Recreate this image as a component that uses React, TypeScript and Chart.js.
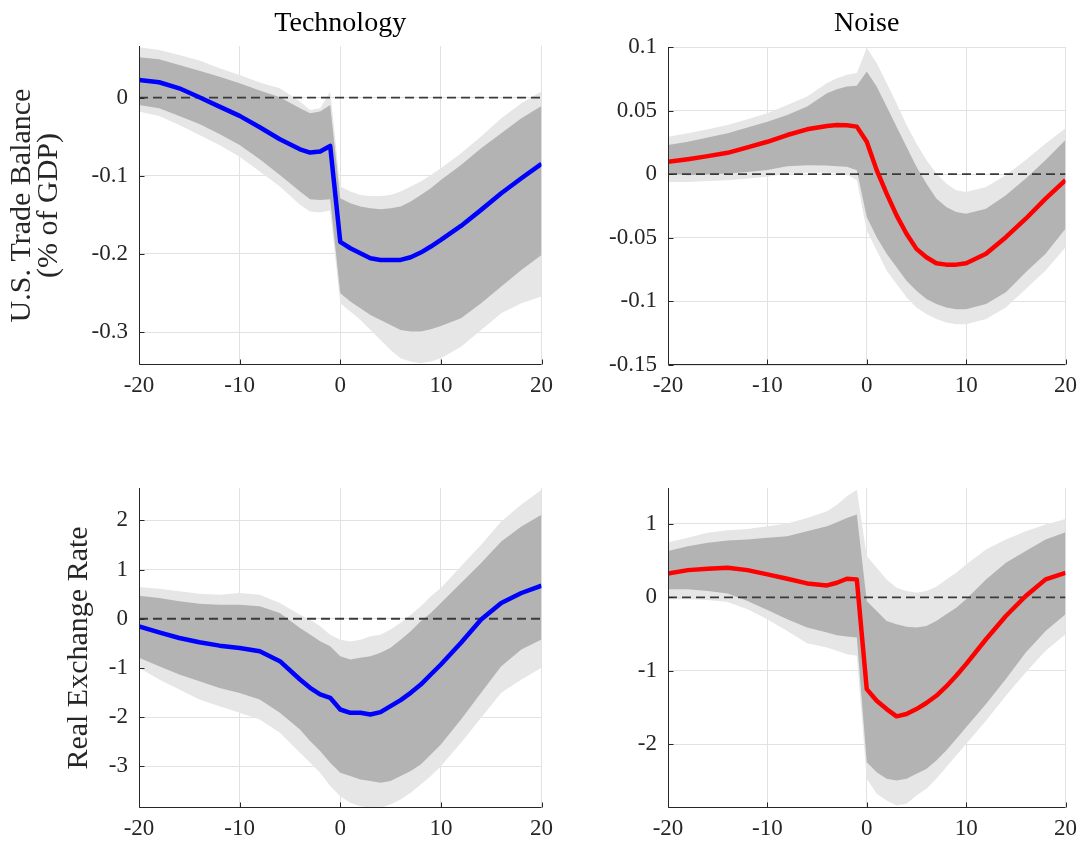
import React, { useEffect, useRef } from 'react';
import { Chart, registerables } from 'chart.js';

Chart.register(...registerables);

const FONT = '"Liberation Serif", "DejaVu Serif", serif';
const TEXT_COLOR = '#262626';

const horizons = [-20, -18, -16, -14, -12, -10, -8, -6, -4, -3, -2, -1, 0, 1, 2, 3, 4, 5, 6, 7, 8, 9, 10, 12, 14, 16, 18, 20];

const xTicks = [-20, -10, 0, 10, 20];
const xTickLabels = ['-20', '-10', '0', '10', '20'];

const columnTitles = ['Technology', 'Noise'];
const rowTitles = [['U.S. Trade Balance', '(% of GDP)'], ['Real Exchange Rate']];

// ---- Trade balance, technology shock ----
const tbTechMedian = [0.0226, 0.0196, 0.0119, 0.0004, -0.0115, -0.0234, -0.0379, -0.0533, -0.0661, -0.0703, -0.069, -0.0618, -0.1845, -0.1927, -0.1991, -0.2055, -0.2076, -0.2076, -0.2076, -0.2042, -0.1982, -0.1905, -0.182, -0.1641, -0.1436, -0.1223, -0.1032, -0.0848];
const tbTechInnerUpper = [0.0516, 0.049, 0.0418, 0.0345, 0.0268, 0.0183, 0.009, 0.0004, -0.0136, -0.02, -0.0179, -0.0094, -0.1287, -0.1351, -0.1394, -0.1415, -0.1428, -0.1415, -0.1394, -0.133, -0.1245, -0.116, -0.1053, -0.0861, -0.0648, -0.0456, -0.0264, -0.0107];
const tbTechOuterUpper = [0.0644, 0.061, 0.0546, 0.0473, 0.0375, 0.029, 0.0192, 0.0119, -0.0051, -0.0158, -0.0136, 0.0077, -0.1138, -0.1202, -0.1245, -0.1258, -0.1258, -0.1245, -0.1202, -0.1138, -0.1074, -0.0989, -0.0904, -0.0712, -0.0499, -0.0264, -0.0072, 0.0077];
const tbTechInnerLower = [-0.0094, -0.0136, -0.0234, -0.0337, -0.0465, -0.0605, -0.0789, -0.0989, -0.1202, -0.13, -0.1309, -0.13, -0.2502, -0.2609, -0.2694, -0.2779, -0.2843, -0.2907, -0.2971, -0.2992, -0.2992, -0.2963, -0.292, -0.2822, -0.263, -0.2417, -0.2204, -0.2012];
const tbTechOuterLower = [-0.0179, -0.0235, -0.035, -0.0478, -0.0605, -0.0755, -0.0946, -0.1138, -0.1372, -0.1458, -0.1471, -0.1445, -0.263, -0.2737, -0.2843, -0.2971, -0.3099, -0.3227, -0.3333, -0.3376, -0.3397, -0.3376, -0.3333, -0.3185, -0.2971, -0.2758, -0.263, -0.2545];
const tbTechYTicks = [-0.3, -0.2, -0.1, 0];
const tbTechYLabels = ['-0.3', '-0.2', '-0.1', '0'];

// ---- Trade balance, noise shock ----
const tbNoiseMedian = [0.0097, 0.0118, 0.0142, 0.0168, 0.0211, 0.0255, 0.0308, 0.0353, 0.0379, 0.0387, 0.0384, 0.0374, 0.0255, 0.0032, -0.0153, -0.0324, -0.0468, -0.0587, -0.0653, -0.07, -0.0711, -0.0711, -0.07, -0.0626, -0.0495, -0.035, -0.0192, -0.0047];
const tbNoiseInnerUpper = [0.0229, 0.0255, 0.0289, 0.0321, 0.0368, 0.0413, 0.0466, 0.0532, 0.0637, 0.0668, 0.0689, 0.0695, 0.0808, 0.0689, 0.0532, 0.0374, 0.0216, 0.0058, -0.0074, -0.0192, -0.0258, -0.0297, -0.0311, -0.0271, -0.0166, -0.0034, 0.0111, 0.0268];
const tbNoiseOuterUpper = [0.0295, 0.0321, 0.0353, 0.0387, 0.0432, 0.0479, 0.0545, 0.0611, 0.0716, 0.0755, 0.0782, 0.0795, 0.0992, 0.0874, 0.0716, 0.0558, 0.0387, 0.0242, 0.0111, 0.0005, -0.0074, -0.0126, -0.0139, -0.01, -0.0008, 0.0111, 0.0242, 0.0361];
const tbNoiseInnerLower = [0.0005, -0.0008, -0.0003, 0.0005, 0.0018, 0.0034, 0.0063, 0.0071, 0.0068, 0.0063, 0.0058, 0.0032, -0.0337, -0.0495, -0.0626, -0.0732, -0.0837, -0.0916, -0.0982, -0.1021, -0.1047, -0.1061, -0.1061, -0.1021, -0.0929, -0.0771, -0.0626, -0.0429];
const tbNoiseOuterLower = [-0.0061, -0.0061, -0.0053, -0.0047, -0.0034, -0.0021, 0.0005, 0.0011, 0.0011, 0.0005, 0, -0.0047, -0.0442, -0.06, -0.0758, -0.0863, -0.0968, -0.1047, -0.11, -0.1139, -0.1166, -0.1179, -0.1179, -0.1139, -0.1047, -0.0903, -0.0758, -0.0574];
const tbNoiseYTicks = [-0.15, -0.1, -0.05, 0, 0.05, 0.1];
const tbNoiseYLabels = ['-0.15', '-0.1', '-0.05', '0', '0.05', '0.1'];

// ---- Real exchange rate, technology shock ----
const rerTechMedian = [-0.154, -0.277, -0.392, -0.479, -0.547, -0.594, -0.66, -0.863, -1.236, -1.405, -1.54, -1.608, -1.846, -1.913, -1.913, -1.947, -1.9, -1.778, -1.656, -1.507, -1.339, -1.134, -0.931, -0.49, -0.016, 0.321, 0.524, 0.673];
const rerTechInnerUpper = [0.47, 0.422, 0.355, 0.307, 0.287, 0.287, 0.253, 0.118, -0.188, -0.321, -0.456, -0.558, -0.764, -0.829, -0.795, -0.764, -0.693, -0.592, -0.425, -0.253, -0.05, 0.118, 0.321, 0.727, 1.134, 1.574, 1.879, 2.117];
const rerTechOuterUpper = [0.646, 0.612, 0.558, 0.51, 0.49, 0.524, 0.49, 0.321, 0.083, -0.018, -0.154, -0.324, -0.425, -0.463, -0.425, -0.358, -0.324, -0.219, -0.083, 0.083, 0.253, 0.456, 0.626, 1.066, 1.507, 1.981, 2.322, 2.626];
const rerTechInnerLower = [-0.795, -0.964, -1.134, -1.269, -1.407, -1.51, -1.642, -1.913, -2.252, -2.489, -2.692, -2.931, -3.134, -3.201, -3.269, -3.303, -3.336, -3.303, -3.201, -3.099, -2.963, -2.76, -2.556, -2.049, -1.506, -0.965, -0.627, -0.424];
const rerTechOuterLower = [-0.998, -1.235, -1.439, -1.642, -1.78, -1.91, -2.048, -2.319, -2.726, -2.929, -3.133, -3.404, -3.61, -3.745, -3.813, -3.846, -3.846, -3.779, -3.677, -3.542, -3.373, -3.201, -3.0, -2.523, -2.015, -1.506, -1.235, -0.998];
const rerTechYTicks = [-3, -2, -1, 0, 1, 2];
const rerTechYLabels = ['-3', '-2', '-1', '0', '1', '2'];

// ---- Real exchange rate, noise shock ----
const rerNoiseMedian = [0.326, 0.371, 0.389, 0.403, 0.371, 0.313, 0.254, 0.19, 0.163, 0.199, 0.254, 0.245, -1.25, -1.408, -1.522, -1.621, -1.59, -1.522, -1.44, -1.341, -1.214, -1.069, -0.91, -0.571, -0.254, 0.018, 0.245, 0.335];
const rerNoiseInnerUpper = [0.63, 0.697, 0.743, 0.774, 0.788, 0.811, 0.833, 0.901, 0.969, 1.024, 1.082, 1.128, -0.05, -0.186, -0.322, -0.367, -0.399, -0.412, -0.389, -0.322, -0.231, -0.14, -0.027, 0.245, 0.471, 0.63, 0.788, 0.888];
const rerNoiseOuterUpper = [0.752, 0.811, 0.879, 0.915, 0.933, 0.969, 1.005, 1.082, 1.173, 1.263, 1.377, 1.467, 0.562, 0.403, 0.245, 0.131, 0.086, 0.063, 0.086, 0.145, 0.245, 0.335, 0.448, 0.652, 0.788, 0.901, 0.992, 1.069];
const rerNoiseInnerLower = [0.109, 0.109, 0.086, 0.054, -0.05, -0.172, -0.299, -0.412, -0.48, -0.516, -0.534, -0.548, -2.246, -2.382, -2.473, -2.496, -2.473, -2.405, -2.337, -2.224, -2.088, -1.929, -1.77, -1.454, -1.114, -0.752, -0.457, -0.231];
const rerNoiseOuterLower = [-0.027, -0.027, -0.036, -0.063, -0.163, -0.299, -0.458, -0.625, -0.684, -0.729, -0.774, -0.797, -2.473, -2.677, -2.767, -2.835, -2.813, -2.699, -2.609, -2.473, -2.314, -2.156, -1.997, -1.68, -1.341, -1.024, -0.729, -0.503];
const rerNoiseYTicks = [-2, -1, 0, 1];
const rerNoiseYLabels = ['-2', '-1', '0', '1'];

type PanelSpec = {
  median: number[];
  innerUpper: number[];
  innerLower: number[];
  outerUpper: number[];
  outerLower: number[];
  color: string;
  yMin: number;
  yMax: number;
  yTicks: number[];
  yLabels: string[];
  title?: string;
  yTitle?: string[];
  left: number;
  top: number;
  width: number;
  height: number;
  yAxisWidth: number;
  xAxisHeight: number;
  padTop: number;
  padRight: number;
  titlePadTop: number;
  titlePadBottom: number;
  yTitlePad: number;
};

const panels: PanelSpec[] = [
  {
    median: tbTechMedian, innerUpper: tbTechInnerUpper, innerLower: tbTechInnerLower,
    outerUpper: tbTechOuterUpper, outerLower: tbTechOuterLower, color: '#0000ff',
    yMin: -0.342, yMax: 0.066, yTicks: tbTechYTicks, yLabels: tbTechYLabels,
    title: columnTitles[0], yTitle: rowTitles[0],
    left: 0, top: 0, width: 560, height: 420, yAxisWidth: 139, xAxisHeight: 55,
    padTop: 0, padRight: 18, titlePadTop: 9, titlePadBottom: 7, yTitlePad: 9,
  },
  {
    median: tbNoiseMedian, innerUpper: tbNoiseInnerUpper, innerLower: tbNoiseInnerLower,
    outerUpper: tbNoiseOuterUpper, outerLower: tbNoiseOuterLower, color: '#ff0000',
    yMin: -0.15, yMax: 0.1, yTicks: tbNoiseYTicks, yLabels: tbNoiseYLabels,
    title: columnTitles[1],
    left: 560, top: 0, width: 524, height: 420, yAxisWidth: 108, xAxisHeight: 55,
    padTop: 0, padRight: 14, titlePadTop: 9, titlePadBottom: 8, yTitlePad: 0,
  },
  {
    median: rerTechMedian, innerUpper: rerTechInnerUpper, innerLower: rerTechInnerLower,
    outerUpper: rerTechOuterUpper, outerLower: rerTechOuterLower, color: '#0000ff',
    yMin: -3.85, yMax: 2.66, yTicks: rerTechYTicks, yLabels: rerTechYLabels,
    yTitle: rowTitles[1],
    left: 0, top: 420, width: 560, height: 424, yAxisWidth: 139, xAxisHeight: 36,
    padTop: 68, padRight: 18, titlePadTop: 0, titlePadBottom: 0, yTitlePad: 66,
  },
  {
    median: rerNoiseMedian, innerUpper: rerNoiseInnerUpper, innerLower: rerNoiseInnerLower,
    outerUpper: rerNoiseOuterUpper, outerLower: rerNoiseOuterLower, color: '#ff0000',
    yMin: -2.87, yMax: 1.49, yTicks: rerNoiseYTicks, yLabels: rerNoiseYLabels,
    left: 560, top: 420, width: 524, height: 424, yAxisWidth: 108, xAxisHeight: 36,
    padTop: 68, padRight: 14, titlePadTop: 0, titlePadBottom: 0, yTitlePad: 0,
  },
];

const axesPlugin = {
  id: 'matlabAxes',
  afterDatasetsDraw(chart: any) {
    const { ctx, chartArea, scales } = chart;
    const { left, right, top, bottom } = chartArea;
    const x = scales.x;
    const y = scales.y;
    ctx.save();
    ctx.strokeStyle = TEXT_COLOR;
    ctx.lineWidth = 1;
    ctx.beginPath();
    const lx = Math.round(left) + 0.5;
    const by = Math.round(bottom) - 0.5;
    ctx.moveTo(lx, top);
    ctx.lineTo(lx, by);
    ctx.lineTo(right, by);
    for (const t of y.ticks) {
      const py = Math.round(y.getPixelForValue(t.value)) + 0.5;
      ctx.moveTo(lx, py);
      ctx.lineTo(lx + 5, py);
    }
    for (const t of x.ticks) {
      const px = Math.round(x.getPixelForValue(t.value)) + 0.5;
      ctx.moveTo(px, by);
      ctx.lineTo(px, by - 5);
    }
    ctx.stroke();
    ctx.restore();
  },
};

function buildConfig(p: PanelSpec): any {
  const pts = (arr: number[]) => arr.map((v, i) => ({ x: horizons[i], y: v }));
  const band = (arr: number[], color: string, fill: any) => ({
    data: pts(arr),
    borderColor: 'rgba(0,0,0,0)',
    borderWidth: 0,
    pointRadius: 0,
    backgroundColor: color,
    fill,
  });
  return {
    type: 'line',
    data: {
      datasets: [
        { data: pts(p.median), borderColor: p.color, borderWidth: 4.5, pointRadius: 0, fill: false, borderJoinStyle: 'round' },
        {
          data: [{ x: xTicks[0], y: 0 }, { x: xTicks[xTicks.length - 1], y: 0 }],
          borderColor: '#3a3a3a', borderWidth: 1.8, borderDash: [9, 5], pointRadius: 0, fill: false,
        },
        band(p.innerUpper, '#b3b3b3', '+1'),
        band(p.innerLower, '#b3b3b3', false),
        band(p.outerUpper, '#e6e6e6', '+1'),
        band(p.outerLower, '#e6e6e6', false),
      ],
    },
    options: {
      responsive: false,
      animation: false,
      devicePixelRatio: 1,
      layout: { padding: { left: 0, top: p.padTop, right: p.padRight, bottom: 0 } },
      plugins: {
        legend: { display: false },
        tooltip: { enabled: false },
        title: {
          display: !!p.title,
          text: p.title || '',
          fullSize: false,
          color: '#000000',
          font: { family: FONT, size: 28, weight: 'normal', lineHeight: '30px' },
          padding: { top: p.titlePadTop, bottom: p.titlePadBottom },
        },
      },
      scales: {
        x: {
          type: 'linear',
          min: xTicks[0],
          max: xTicks[xTicks.length - 1],
          afterBuildTicks: (s: any) => { s.ticks = xTicks.map((v) => ({ value: v })); },
          afterFit: (s: any) => { s.height = p.xAxisHeight; },
          ticks: {
            callback: (v: number) => xTickLabels[xTicks.indexOf(v)],
            font: { family: FONT, size: 23 },
            color: TEXT_COLOR,
            padding: 7,
            maxRotation: 0,
            autoSkip: false,
          },
          grid: { color: '#e2e2e2', drawTicks: false, lineWidth: 1 },
          border: { display: false },
        },
        y: {
          type: 'linear',
          min: p.yMin,
          max: p.yMax,
          afterBuildTicks: (s: any) => { s.ticks = p.yTicks.map((v) => ({ value: v })); },
          afterFit: (s: any) => { s.width = p.yAxisWidth; },
          ticks: {
            callback: (v: number) => p.yLabels[p.yTicks.indexOf(v)],
            font: { family: FONT, size: 23 },
            color: TEXT_COLOR,
            padding: 11,
            autoSkip: false,
          },
          grid: { color: '#e2e2e2', drawTicks: false, lineWidth: 1 },
          border: { display: false },
          title: {
            display: !!p.yTitle,
            text: p.yTitle || '',
            color: TEXT_COLOR,
            font: { family: FONT, size: 30, lineHeight: '27px' },
            padding: { top: p.yTitlePad, bottom: 0 },
          },
        },
      },
    },
    plugins: [axesPlugin],
  };
}

function PanelChart({ spec }: { spec: PanelSpec }) {
  const ref = useRef<HTMLCanvasElement>(null);
  useEffect(() => {
    const chart = new Chart(ref.current as HTMLCanvasElement, buildConfig(spec));
    return () => chart.destroy();
  }, [spec]);
  return (
    <canvas
      ref={ref}
      width={spec.width}
      height={spec.height}
      style={{ position: 'absolute', left: spec.left, top: spec.top, width: spec.width, height: spec.height }}
    />
  );
}

export default function App() {
  return (
    <div style={{ position: 'absolute', left: 0, top: 0, width: 1084, height: 844, background: '#ffffff', overflow: 'hidden' }}>
      {panels.map((p, i) => (
        <PanelChart key={i} spec={p} />
      ))}
    </div>
  );
}
